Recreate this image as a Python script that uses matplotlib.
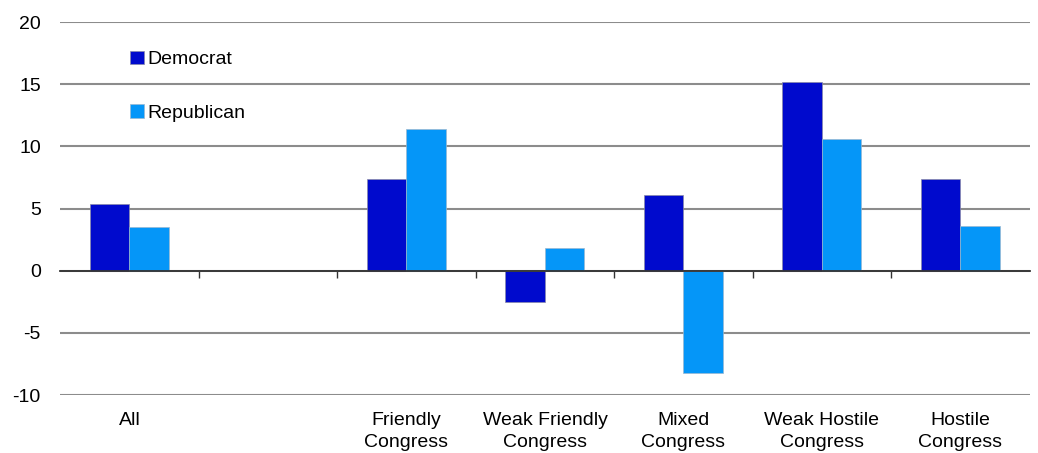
import numpy as np
import matplotlib.pyplot as plt

plt.rcParams['font.family'] = ['Liberation Sans', 'DejaVu Sans']
plt.rcParams['axes.unicode_minus'] = False

# Datos
categorias = ['All', '', 'Friendly\nCongress', 'Weak Friendly\nCongress', 'Mixed\nCongress',
              'Weak Hostile\nCongress', 'Hostile\nCongress']
democrat = [5.4, np.nan, 7.4, -2.5, 6.1, 15.2, 7.4]
republican = [3.5, np.nan, 11.4, 1.85, -8.2, 10.6, 3.6]

fig = plt.figure(figsize=(10.38, 4.53), dpi=100)
ax = fig.add_axes([0.058, 0.128, 0.934, 0.823])

x = np.arange(len(categorias))
w = 0.285
ax.bar(x - w / 2, democrat, w, color='#000ACD', edgecolor='#8a8aa8', linewidth=0.5, label='Democrat', zorder=3)
ax.bar(x + w / 2, republican, w, color='#0596F8', edgecolor='#9ab8d0', linewidth=0.5, label='Republican', zorder=3)

ax.set_xlim(-0.5, len(categorias) - 0.5)
ax.set_ylim(-10, 20)
ax.set_yticks(range(-10, 21, 5))
ax.tick_params(axis='y', length=0, labelsize=14, pad=14)
ax.grid(axis='y', color='#8c8c8c', linewidth=1.5, zorder=0)
for s in ['top', 'right', 'left']:
    ax.spines[s].set_visible(False)

# eje x en cero con marcas entre categorías
ax.spines['bottom'].set_position(('data', 0))
ax.spines['bottom'].set_color('#333333')
ax.spines['bottom'].set_linewidth(1.3)
ax.spines['bottom'].set_zorder(4)
ax.set_xticks(np.arange(0.5, len(categorias) - 0.5, 1))
ax.set_xticklabels([])
ax.tick_params(axis='x', direction='out', length=5, width=1, color='#333333')

for i, c in enumerate(categorias):
    ax.text(i, -11.4, c, ha='center', va='top', fontsize=14, linespacing=1.35,
            transform=ax.transData, clip_on=False)

ax.legend(loc='upper left', bbox_to_anchor=(0.054, 0.97), frameon=False, fontsize=14,
          handlelength=0.7, handleheight=0.7, handletextpad=0.2, labelspacing=1.85)

fig.savefig('out.png')
